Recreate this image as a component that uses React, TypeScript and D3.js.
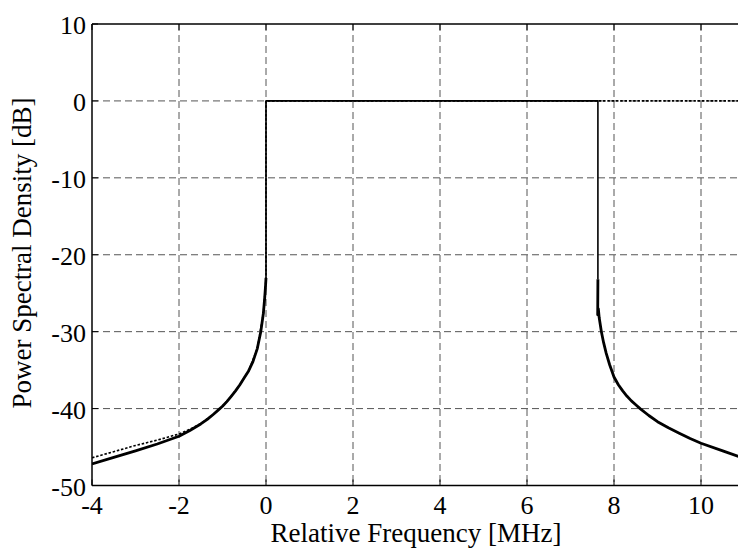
import React from "react";
import * as d3 from "d3";

const xTicks = [-4, -2, 0, 2, 4, 6, 8, 10];
const yTicks = [-50, -40, -30, -20, -10, 0, 10];

// Solid series (filtered spectrum)
const solidLeftF = [-4, -3.5, -3, -2.5, -2, -1.75, -1.5, -1.35, -1.2, -1.1, -1.0, -0.9, -0.8, -0.7, -0.6, -0.5, -0.4, -0.3, -0.2, -0.12, -0.06, -0.03, -0.01, 0];
const solidLeftDb = [-47.2, -46.35, -45.5, -44.6, -43.6, -42.85, -42.0, -41.4, -40.7, -40.2, -39.7, -39.1, -38.4, -37.7, -36.9, -36.0, -35.1, -33.9, -32.2, -30.0, -27.6, -25.6, -24.0, -23.0];
const solidPassF = [0, 0, 7.63, 7.63];
const solidPassDb = [-23.0, 0, 0, -23.2];
const solidRightF = [7.63, 7.625, 7.64, 7.66, 7.71, 7.76, 7.82, 7.9, 8.0, 8.1, 8.2, 8.3, 8.4, 8.5, 8.6, 8.8, 9.0, 9.25, 9.5, 9.75, 10.0, 10.5, 11.0];
const solidRightDb = [-23.2, -27.8, -27.0, -28.2, -30.0, -31.4, -32.8, -34.3, -35.9, -36.9, -37.7, -38.4, -39.0, -39.5, -40.0, -40.9, -41.7, -42.5, -43.2, -43.9, -44.5, -45.5, -46.5];

// Dotted series (unfiltered reference)
const dotF = [-4, -3.5, -3, -2.5, -2, -1.75, -1.5, -1.2, -1.0, -0.8, -0.6, -0.4, -0.2, -0.06, -0.01, 0, 0, 11];
const dotDb = [-46.4, -45.6, -44.8, -44.1, -43.3, -42.7, -41.95, -40.7, -39.7, -38.4, -36.9, -35.1, -32.2, -27.6, -24.0, -23.0, 0, 0];

const W = 738;
const H = 548;
const left = 92;
const top = 24;
const bottom = 485.5;
const xMin = -4;
const xMax = 11;

export default function App() {
  const x = d3.scaleLinear().domain([xMin, xMax]).range([left, 744.5]);
  const y = d3.scaleLinear().domain([-50, 10]).range([bottom, top]);
  const lin = d3
    .line<[number, number]>()
    .x((d) => x(d[0]))
    .y((d) => y(d[1]));
  const zip = (a: number[], b: number[]) => a.map((v, i) => [v, b[i]] as [number, number]);
  const font = "Liberation Serif, Times New Roman, serif";
  return (
    <svg width={W} height={H} style={{ position: "absolute", left: 0, top: 0, background: "#fff" }}>
      <defs>
        <clipPath id="plot">
          <rect x={left} y={top - 2} width={W - left} height={bottom - top + 4} />
        </clipPath>
      </defs>
      {/* grid */}
      <g stroke="#555" strokeWidth={1} strokeDasharray="7,4">
        {xTicks
          .filter((t) => t !== xMin)
          .map((t) => (
            <line key={"gx" + t} x1={x(t)} x2={x(t)} y1={top} y2={bottom} />
          ))}
        {yTicks
          .filter((t) => t !== -50 && t !== 10)
          .map((t) => (
            <line key={"gy" + t} x1={left} x2={W} y1={y(t)} y2={y(t)} />
          ))}
      </g>
      {/* series */}
      <g clipPath="url(#plot)" fill="none" stroke="#000" strokeLinejoin="round">
        <path d={lin(zip(dotF, dotDb)) || ""} strokeWidth={1.6} strokeDasharray="2.5,1.8" />
        <path d={lin(zip(solidLeftF, solidLeftDb)) || ""} strokeWidth={2.8} />
        <path d={lin(zip(solidPassF, solidPassDb)) || ""} strokeWidth={1.6} />
        <path d={lin(zip(solidRightF, solidRightDb)) || ""} strokeWidth={2.8} />
      </g>
      {/* axes */}
      <g stroke="#000" strokeWidth={1.5} fill="none">
        <line x1={left} x2={W} y1={top} y2={top} />
        <line x1={left} x2={W} y1={bottom} y2={bottom} />
        <line x1={left} x2={left} y1={top} y2={bottom} />
        {xTicks.map((t) => (
          <line key={"tx" + t} x1={x(t)} x2={x(t)} y1={bottom} y2={bottom - 6} strokeWidth={1} />
        ))}
        {xTicks.map((t) => (
          <line key={"tt" + t} x1={x(t)} x2={x(t)} y1={top} y2={top + 6} strokeWidth={1} />
        ))}
        {yTicks.map((t) => (
          <line key={"ty" + t} x1={left} x2={left + 6} y1={y(t)} y2={y(t)} strokeWidth={1} />
        ))}
      </g>
      <g fontFamily={font} fontSize={26} fill="#000">
        {xTicks.map((t) => (
          <text key={"lx" + t} x={x(t)} y={bottom + 28} textAnchor="middle">
            {t}
          </text>
        ))}
        {yTicks.map((t) => (
          <text key={"ly" + t} x={left - 6} y={y(t) + 10} textAnchor="end">
            {t}
          </text>
        ))}
      </g>
      <text x={416} y={542} textAnchor="middle" fontFamily={font} fontSize={27}>
        Relative Frequency [MHz]
      </text>
      <text
        transform={`translate(31, 253) rotate(-90)`}
        textAnchor="middle"
        fontFamily={font}
        fontSize={27}
      >
        Power Spectral Density [dB]
      </text>
    </svg>
  );
}
